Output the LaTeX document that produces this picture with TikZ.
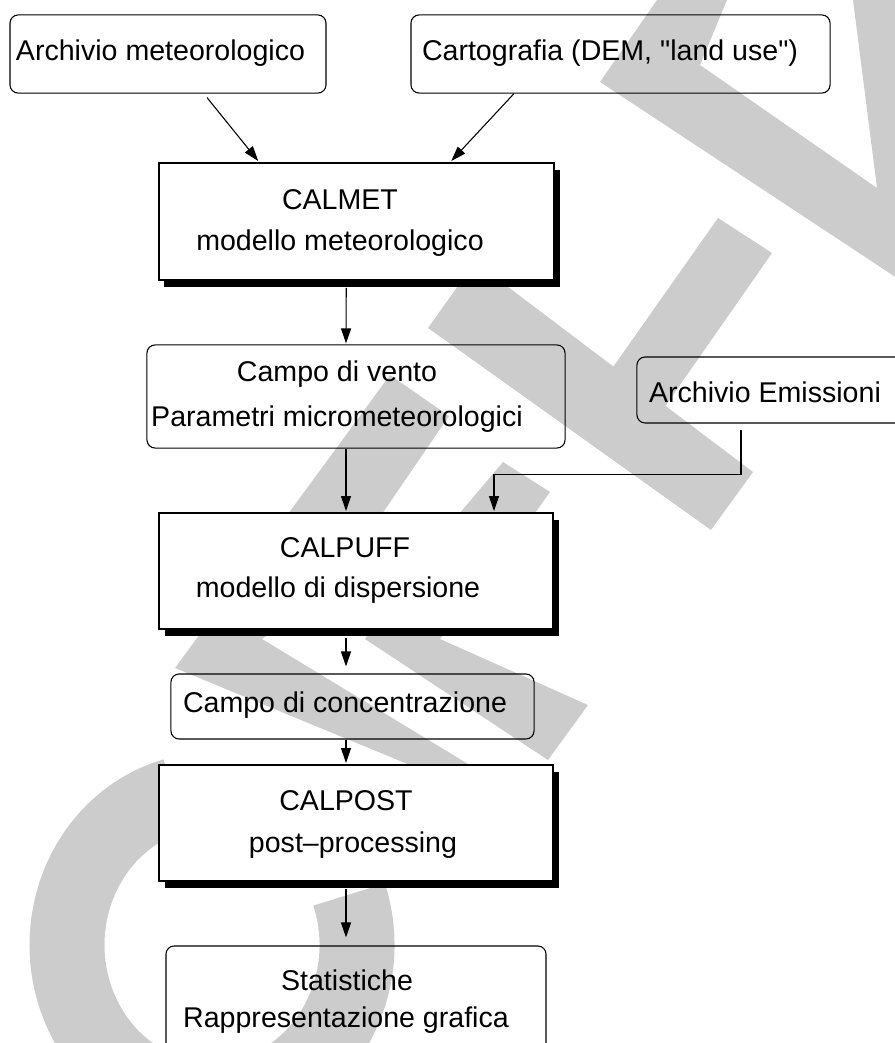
\documentclass[tikz,border=0pt]{standalone}
\usepackage{fontspec}
\setmainfont{Liberation Sans}
\usepackage{tikz}
\usetikzlibrary{shadows}
\usetikzlibrary{positioning}
\usetikzlibrary{arrows.meta,calc}

\definecolor{wmgray}{gray}{0.8}

\tikzset{
  lbl/.style={font=\fontsize{12}{14}\selectfont, inner sep=0pt, anchor=base},
  rbox/.style={draw, line width=0.45pt, rounded corners=3.4pt, inner sep=0pt},
  pbox/.style={draw, line width=0.85pt, fill=white, inner sep=0pt,
    drop shadow={shadow xshift=2.5pt, shadow yshift=-2.9pt, opacity=1, fill=black}},
  arr/.style={draw, line width=0.45pt, -{Triangle[length=6.3pt,width=4.2pt]}},
  wm/.style={fill=wmgray}
}

\begin{document}
\begin{tikzpicture}[x=0.42pt, y=-0.42pt]
 \useasboundingbox (0,0) rectangle (895,1043);
 \clip (0,0) rectangle (895,1043);

 %watermark
 \fill[wm] (600,82) -- (657,0) -- (727,0) -- (700,65) -- (877,188) -- (853,0) -- (900,0) -- (900,280) -- cycle;
 \fill[wm] (428,328) -- (475,262) -- (753,472) -- (711,530) -- cycle;
 \fill[wm] (611,370) -- (718,218) -- (772,253) -- (664,408) -- cycle;
 \fill[wm] (390,375) -- (449,416) -- (330,590) -- (262,639) -- (478,770) -- (422,770) -- (175,668) -- cycle;
 \fill[wm] (503,462) -- (550,492) -- (480,590) -- (440,639) -- (588,705) -- (548,760) -- (365,639) -- (420,560) -- cycle;
 \coordinate (cc) at (212,945);
 \draw[wmgray, line width=31.5pt] (cc) ++(-19:145 and 155) arc[start angle=-19, end angle=255, x radius=145, y radius=155];

 %boxes
 \node[rbox, minimum width=132.7pt, minimum height=32.8pt] (arch) at (168,54) {};
 \node[rbox, minimum width=176pt, minimum height=32.8pt] (carto) at (620.5,54) {};
 \node[pbox, minimum width=166.1pt, minimum height=49.1pt] (calmet) at (356.25,221.5) {};
 \node[rbox, minimum width=175.6pt, minimum height=43.3pt] (vento) at (356,396.5) {};
 \node[rbox, minimum width=116.8pt, minimum height=27.7pt] (emiss) at (776,390) {};
 \node[pbox, minimum width=165.5pt, minimum height=48.7pt] (calpuff) at (356,571) {};
 \node[rbox, minimum width=152.5pt, minimum height=27.3pt] (conc) at (352.5,706.5) {};
 \node[pbox, minimum width=165.5pt, minimum height=48.7pt] (calpost) at (356,823) {};
 \node[rbox, minimum width=159.6pt, minimum height=52.1pt] (stat) at (356,1008) {};

 %texts
 \node[lbl] (archtxt) at (160.5,61) {Archivio meteorologico};
 \node[lbl] (cartotxt) at (610,61) {Cartografia (DEM, \textquotedbl land use\textquotedbl)};
 \node[lbl] (calmet1) at (340,210) {CALMET};
 \node[lbl] (calmet2) at (340,251) {modello meteorologico};
 \node[lbl] (vento1) at (337,381) {Campo di vento};
 \node[lbl] (vento2) at (337,426) {Parametri micrometeorologici};
 \node[lbl] (emisstxt) at (765,402) {Archivio Emissioni};
 \node[lbl] (calpuff1) at (345,557) {CALPUFF};
 \node[lbl] (calpuff2) at (338,597) {modello di dispersione};
 \node[lbl] (conctxt) at (345,712) {Campo di concentrazione};
 \node[lbl] (calpost1) at (346,810) {CALPOST};
 \node[lbl] (calpost2) at (353,852) {post--processing};
 \node[lbl] (stat1) at (347,990) {Statistiche};
 \node[lbl] (stat2) at (346,1027) {Rappresentazione grafica};

 %arrows
 \path[arr] ($(arch.south)+(39,4)$) -- ($(calmet.north)+(-98,-1)$);
 \path[arr] ($(carto.south)+(-106.5,0)$) -- ($(calmet.north)+(95,-1)$);
 \path[arr] ($(calmet.south)+(-10,7)$) -- ($(vento.north)+(-10,-1)$);
 \path[arr] ($(vento.south)+(-10,0)$) -- ($(calpuff.north)+(-10,-1)$);
 \path[arr] ($(emiss.south)+(-35,6)$) -- ++(0,45) -| ($(calpuff.north)+(138,-1)$);
 \path[arr] ($(calpuff.south)+(-10,8)$) -- ($(conc.north)+(-6.5,-7)$);
 \path[arr] ($(conc.south)+(-6.5,0)$) -- ($(calpost.north)+(-10,-1)$);
 \path[arr] ($(calpost.south)+(-10,7)$) -- ($(stat.north)+(-10,-8)$);

\end{tikzpicture}
\end{document}
